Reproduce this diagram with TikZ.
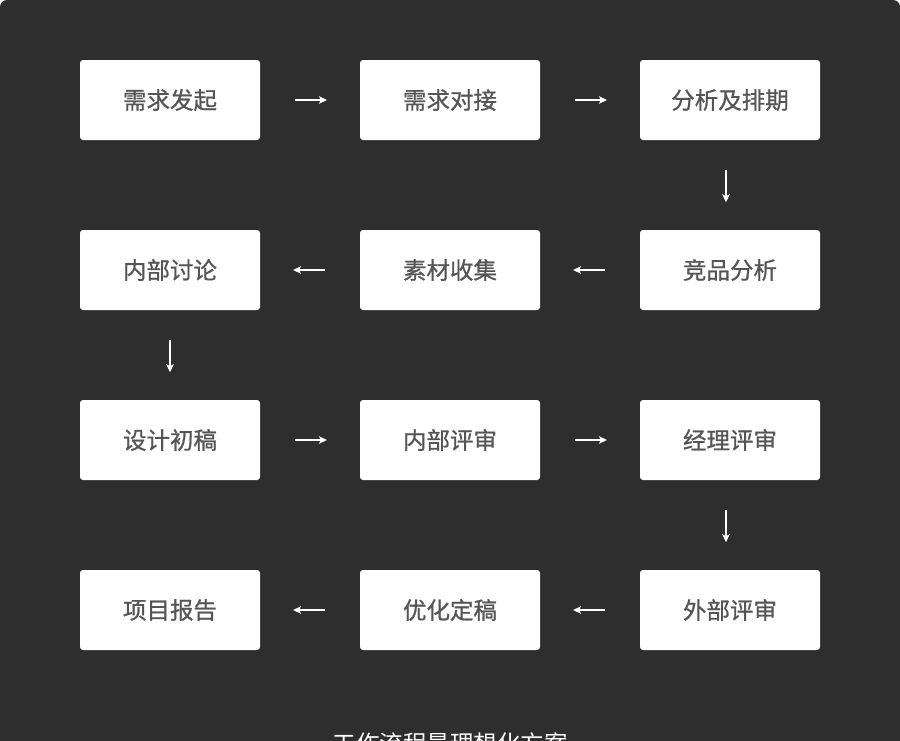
\documentclass[tikz,border=0pt]{standalone}
\usepackage{fontspec}
\newfontfamily\cjk{Noto Sans CJK SC}[FakeBold=0.8]
\newfontfamily\cjktitle{Noto Sans CJK SC}
\usetikzlibrary{arrows.meta}
\definecolor{bg}{HTML}{2E2E2E}
\definecolor{txt}{HTML}{555555}
\begin{document}
\begin{tikzpicture}[x=1pt,y=-1pt,
  box/.style={fill=white,draw=none,rounded corners=3pt,minimum width=180pt,minimum height=80pt,inner sep=0pt,text=txt,font=\cjk\fontsize{23.5}{28}\selectfont},
  arr/.style={draw=white,line width=1.5pt,-{Stealth[length=8pt,width=7.5pt,inset=2pt]}}]
\useasboundingbox (0,0) rectangle (900,740);
\fill[white] (0,0) rectangle (900,740);
\fill[bg,rounded corners=7pt] (0,760) -- (0,0) -- (900,0) -- (900,760) -- cycle;
\node[box] (a1) at (170,100) {需求发起};
\node[box] (a2) at (450,100) {需求对接};
\node[box] (a3) at (730,100) {分析及排期};
\node[box] (b1) at (170,270) {内部讨论};
\node[box] (b2) at (450,270) {素材收集};
\node[box] (b3) at (730,270) {竞品分析};
\node[box] (c1) at (170,440) {设计初稿};
\node[box] (c2) at (450,440) {内部评审};
\node[box] (c3) at (730,440) {经理评审};
\node[box] (d1) at (170,610) {项目报告};
\node[box] (d2) at (450,610) {优化定稿};
\node[box] (d3) at (730,610) {外部评审};
\path (a1.east) -- coordinate[pos=.35] (p1s) coordinate[pos=.67] (p1e) (a2.west);
\path (a2.east) -- coordinate[pos=.35] (p2s) coordinate[pos=.67] (p2e) (a3.west);
\draw[arr] (p1s) -- (p1e);
\draw[arr] (p2s) -- (p2e);
\coordinate (v1s) at ([xshift=-4pt,yshift=-30pt]a3.south);
\coordinate (v1e) at ([xshift=-4pt,yshift=-62pt]a3.south);
\draw[arr] (v1s) -- (v1e);
\path (b3.west) -- coordinate[pos=.35] (p3s) coordinate[pos=.67] (p3e) (b2.east);
\path (b2.west) -- coordinate[pos=.35] (p4s) coordinate[pos=.67] (p4e) (b1.east);
\draw[arr] (p3s) -- (p3e);
\draw[arr] (p4s) -- (p4e);
\coordinate (v2s) at ([yshift=-30pt]b1.south);
\coordinate (v2e) at ([yshift=-62pt]b1.south);
\draw[arr] (v2s) -- (v2e);
\path (c1.east) -- coordinate[pos=.35] (p5s) coordinate[pos=.67] (p5e) (c2.west);
\path (c2.east) -- coordinate[pos=.35] (p6s) coordinate[pos=.67] (p6e) (c3.west);
\draw[arr] (p5s) -- (p5e);
\draw[arr] (p6s) -- (p6e);
\coordinate (v3s) at ([xshift=-4pt,yshift=-30pt]c3.south);
\coordinate (v3e) at ([xshift=-4pt,yshift=-62pt]c3.south);
\draw[arr] (v3s) -- (v3e);
\path (d3.west) -- coordinate[pos=.35] (p7s) coordinate[pos=.67] (p7e) (d2.east);
\path (d2.west) -- coordinate[pos=.35] (p8s) coordinate[pos=.67] (p8e) (d1.east);
\draw[arr] (p7s) -- (p7e);
\draw[arr] (p8s) -- (p8e);
\node[text=white,font=\cjktitle\fontsize{23.5}{28}\selectfont,inner sep=0pt] (title) at (450,744) {工作流程最理想化方案};
\end{tikzpicture}
\end{document}
